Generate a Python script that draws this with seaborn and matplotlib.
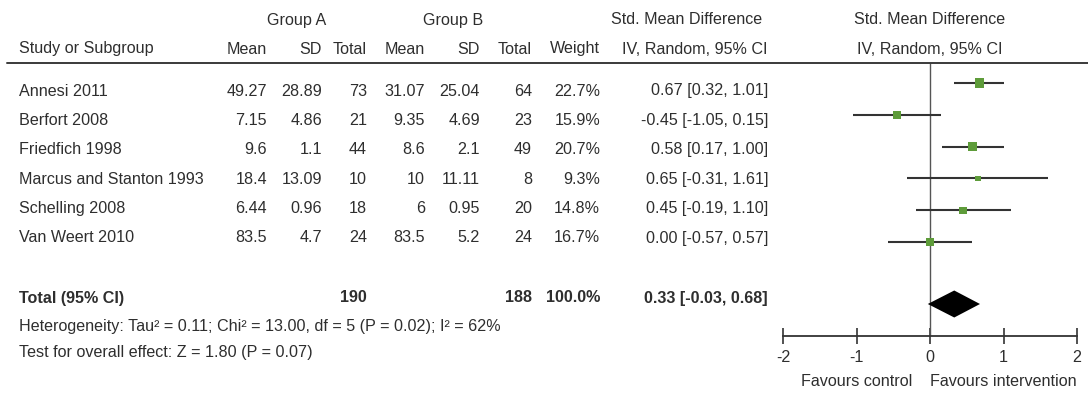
import numpy as np
import pandas as pd
import matplotlib
matplotlib.use("Agg")
import matplotlib.pyplot as plt
from matplotlib.lines import Line2D
import seaborn as sns

# ---- study data ----
studies = ["Annesi 2011", "Berfort 2008", "Friedfich 1998",
           "Marcus and Stanton 1993", "Schelling 2008", "Van Weert 2010"]
mean_a = [49.27, 7.15, 9.6, 18.4, 6.44, 83.5]
sd_a = [28.89, 4.86, 1.1, 13.09, 0.96, 4.7]
n_a = [73, 21, 44, 10, 18, 24]
mean_b = [31.07, 9.35, 8.6, 10, 6, 83.5]
sd_b = [25.04, 4.69, 2.1, 11.11, 0.95, 5.2]
n_b = [64, 23, 49, 8, 20, 24]
weight = [22.7, 15.9, 20.7, 9.3, 14.8, 16.7]
smd = [0.67, -0.45, 0.58, 0.65, 0.45, 0.00]
ci_low = [0.32, -1.05, 0.17, -0.31, -0.19, -0.57]
ci_high = [1.01, 0.15, 1.00, 1.61, 1.10, 0.57]

total_n_a = 190
total_n_b = 188
total_weight = 100.0
total_smd = 0.33
total_low = -0.03
total_high = 0.68

heterogeneity = "Heterogeneity: Tau² = 0.11; Chi² = 13.00, df = 5 (P = 0.02); I² = 62%"
overall_test = "Test for overall effect: Z = 1.80 (P = 0.07)"
x_ticks = [-2, -1, 0, 1, 2]
favours = ["Favours control", "Favours intervention"]

# ---- layout (pixels on a 1088 x 395 canvas) ----
W, H = 1088, 395
text_y = [91 + 29.4 * i for i in range(len(studies))]
text_total_y = 298
plot_y = [83 + 31.8 * i for i in range(len(studies))]
plot_total_y = 304

df = pd.DataFrame({"study": studies, "smd": smd, "lo": ci_low,
                   "hi": ci_high, "weight": weight, "y": plot_y})

sns.set_theme(style="white")
plt.rcParams["font.family"] = ["Liberation Sans", "DejaVu Sans"]
TXT = "#2e2e2e"
FS = 11.6

fig = plt.figure(figsize=(W / 100, H / 100), dpi=100)
fig.patch.set_facecolor("white")


def fx(x):
    return x / W


def fy(y):
    return 1 - y / H


def put(x, y, s, ha="left", weight="normal"):
    fig.text(fx(x), fy(y), s, ha=ha, va="center", fontsize=FS,
             color=TXT, fontweight=weight)


def num(v):
    return f"{v:g}"


# column right edges
col_mean_a, col_sd_a, col_n_a = 267, 322, 367
col_mean_b, col_sd_b, col_n_b = 425, 480, 532
col_w, col_ci = 600, 768

# headers
put(297, 20, "Group A", ha="center")
put(453, 20, "Group B", ha="center")
put(687, 20, "Std. Mean Difference", ha="center")
put(930, 20, "Std. Mean Difference", ha="center")
hy = 49
put(19, hy, "Study or Subgroup")
put(col_mean_a, hy, "Mean", ha="right")
put(col_sd_a, hy, "SD", ha="right")
put(col_n_a, hy, "Total", ha="right")
put(col_mean_b, hy, "Mean", ha="right")
put(col_sd_b, hy, "SD", ha="right")
put(col_n_b, hy, "Total", ha="right")
put(col_w, hy, "Weight", ha="right")
put(col_ci, hy, "IV, Random, 95% CI", ha="right")
put(930, hy, "IV, Random, 95% CI", ha="center")

fig.add_artist(Line2D([fx(7), fx(W)], [fy(63), fy(63)], color="#3a3a3a",
                      lw=1.4, transform=fig.transFigure))

# study rows
for i, y in enumerate(text_y):
    put(19, y, studies[i])
    put(col_mean_a, y, num(mean_a[i]), ha="right")
    put(col_sd_a, y, num(sd_a[i]), ha="right")
    put(col_n_a, y, num(n_a[i]), ha="right")
    put(col_mean_b, y, num(mean_b[i]), ha="right")
    put(col_sd_b, y, num(sd_b[i]), ha="right")
    put(col_n_b, y, num(n_b[i]), ha="right")
    put(col_w, y, f"{weight[i]:.1f}%", ha="right")
    put(col_ci, y, f"{smd[i]:.2f} [{ci_low[i]:.2f}, {ci_high[i]:.2f}]", ha="right")

# pooled row
put(19, text_total_y, "Total (95% CI)", weight="bold")
put(col_n_a, text_total_y, num(total_n_a), ha="right", weight="bold")
put(col_n_b, text_total_y, num(total_n_b), ha="right", weight="bold")
put(col_w, text_total_y, f"{total_weight:.1f}%", ha="right", weight="bold")
put(col_ci, text_total_y,
    f"{total_smd:.2f} [{total_low:.2f}, {total_high:.2f}]",
    ha="right", weight="bold")
put(19, 326, heterogeneity)
put(19, 353, overall_test)

# ---- forest panel ----
ax_left, ax_right = 783, 1077
ax_top, ax_bottom = 63, 336
ax = fig.add_axes([fx(ax_left), fy(ax_bottom),
                   (ax_right - ax_left) / W, (ax_bottom - ax_top) / H])
ax.set_facecolor("none")
ax.set_xlim(x_ticks[0], x_ticks[-1])
ax.set_ylim(ax_bottom, ax_top)

ax.axvline(0, color="#555555", lw=1.0, zorder=1)
ax.hlines(df["y"], df["lo"], df["hi"], color="#333333", lw=1.5, zorder=2)
sns.scatterplot(data=df, x="smd", y="y", size="weight",
                sizes=(1.85 * min(weight), 1.85 * max(weight)),
                size_norm=(min(weight), max(weight)),
                marker="s", color="#5e9c3a", edgecolor="none",
                legend=False, ax=ax, zorder=3, clip_on=False)

half = 13.5
ax.fill([total_low, total_smd, total_high, total_smd],
        [plot_total_y, plot_total_y - half, plot_total_y, plot_total_y + half],
        color="black", lw=0, zorder=3)

for s in ["top", "right", "left"]:
    ax.spines[s].set_visible(False)
ax.spines["bottom"].set_color("#333333")
ax.spines["bottom"].set_linewidth(1.3)
ax.set_yticks([])
ax.set_xticks(x_ticks)
ax.set_xticklabels([str(t) for t in x_ticks])
ax.tick_params(axis="x", direction="inout", length=12, width=1.2,
               color="#333333", labelsize=FS, labelcolor=TXT, pad=4,
               bottom=True)
ax.set_xlabel("")
ax.set_ylabel("")

ax.text(-1, 382, favours[0], ha="center", va="center", fontsize=FS,
        color=TXT, transform=ax.transData, clip_on=False)
ax.text(1, 382, favours[1], ha="center", va="center", fontsize=FS,
        color=TXT, transform=ax.transData, clip_on=False)

fig.savefig("out.png", dpi=100, facecolor="white")
